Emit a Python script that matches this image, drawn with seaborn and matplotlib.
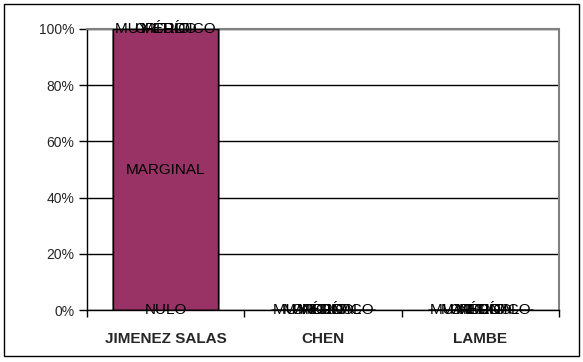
import matplotlib
matplotlib.use("Agg")
import matplotlib.pyplot as plt
from matplotlib.patches import Rectangle
from matplotlib.ticker import FixedLocator, FuncFormatter
import numpy as np
import pandas as pd
import seaborn as sns

# Share (%) of each rating per method, stacked bottom to top
methods = ["JIMENEZ SALAS", "CHEN", "LAMBE"]
levels = ["NULO", "MARGINAL", "MEDIO", "CRÍTICO", "MUY CRÍTICO"]
jimenez_salas = [0, 100, 0, 0, 0]
chen = [0, 0, 0, 0, 0]
lambe = [0, 0, 0, 0, 0]
level_colors = ["#9999FF", "#993366", "#FFFFCC", "#CCFFFF", "#660066"]
y_ticks = [0, 20, 40, 60, 80, 100]

sns.set_style("white")
plt.rcParams["font.family"] = ["Liberation Sans", "DejaVu Sans"]

values = np.array([jimenez_salas, chen, lambe], dtype=float)
tops = np.cumsum(values, axis=1)
bottoms = tops - values

rows = []
for i, m in enumerate(methods):
    for j, lv in enumerate(levels):
        rows.append({"method": m, "level": lv, "top": tops[i, j],
                     "center": bottoms[i, j] + values[i, j] / 2})
df = pd.DataFrame(rows)

fig = plt.figure(figsize=(5.83, 3.62), dpi=100)
ax = fig.add_axes([87 / 583, 52 / 362, (559 - 87) / 583, (310 - 29) / 362])

# Stack by overdrawing cumulative heights, highest level first
draw_order = levels[::-1]
sns.barplot(data=df, x="method", y="top", hue="level", hue_order=draw_order,
            order=methods, dodge=False, width=0.665, saturation=1,
            palette=dict(zip(levels, level_colors)),
            edgecolor="black", linewidth=1, legend=False, ax=ax, zorder=3)

# Series-name data labels at each segment's centre
for _, r in df.iterrows():
    ax.text(methods.index(r["method"]), r["center"], r["level"],
            ha="center", va="center", fontsize=11, color="black", zorder=5)

ax.set_xlim(-0.5, len(methods) - 0.5)
ax.set_ylim(0, 100)
ax.yaxis.set_major_locator(FixedLocator(y_ticks))
ax.yaxis.set_major_formatter(FuncFormatter(lambda v, p: f"{v:.0f}%"))
ax.tick_params(axis="y", direction="out", length=6, width=1, color="black",
               labelsize=10, pad=3, left=True)
ax.tick_params(axis="x", which="major", length=0, pad=16)
ax.xaxis.set_minor_locator(FixedLocator(np.arange(-0.5, len(methods), 1.0)))
ax.tick_params(axis="x", which="minor", direction="out", length=5, width=1,
               color="black", bottom=True)
for lab in ax.get_xticklabels():
    lab.set_fontweight("bold")
    lab.set_fontsize(11)

ax.set_xlabel("")
ax.set_ylabel("")
ax.yaxis.grid(True, color="black", linewidth=1)
ax.set_axisbelow(True)
for s in ["left", "bottom"]:
    ax.spines[s].set_color("black")
    ax.spines[s].set_linewidth(1)
for s in ["top", "right"]:
    ax.spines[s].set_color("#808080")
    ax.spines[s].set_linewidth(1.5)
ax.spines["bottom"].set_zorder(4)

fig.patches.append(Rectangle((4 / 583, 6 / 362), 575 / 583, 352 / 362,
                             transform=fig.transFigure, fill=False,
                             edgecolor="black", linewidth=1))

fig.savefig("out.png", dpi=100)
